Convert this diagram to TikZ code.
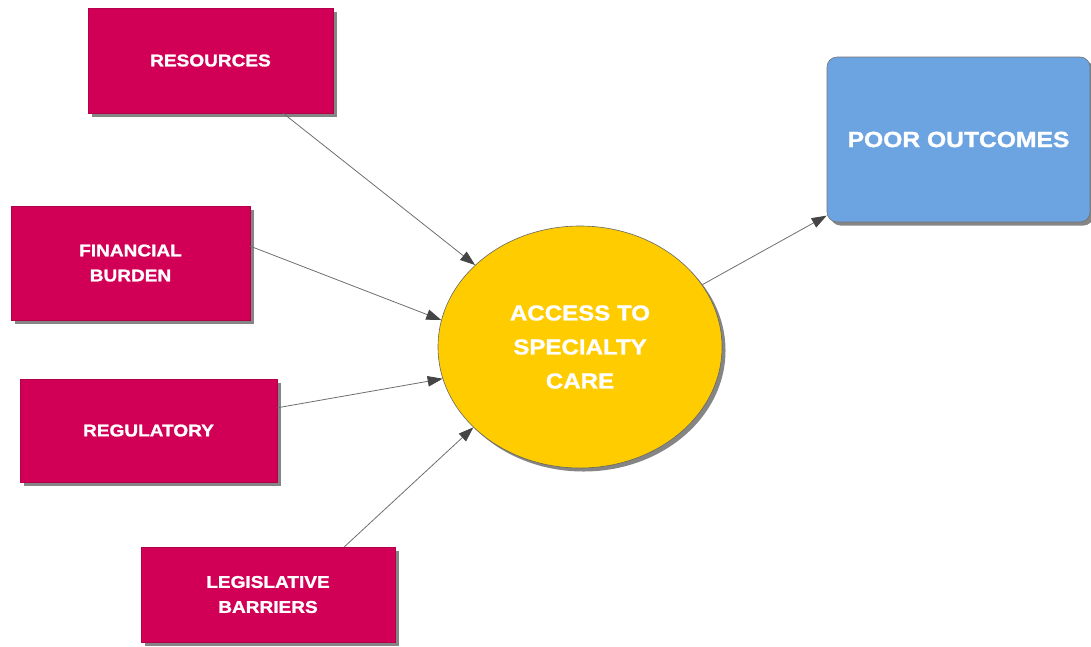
\documentclass[tikz,border=0pt]{standalone}
\usepackage{fontspec}
\newfontfamily\lbl{Liberation Sans}[FakeStretch=1.12,BoldFeatures={FakeBold=1.3}]
\usetikzlibrary{arrows.meta,shapes.geometric,shadows}
\definecolor{factorred}{HTML}{D10056}
\definecolor{accessyellow}{HTML}{FFCC00}
\definecolor{outcomeblue}{HTML}{6CA3E1}
\definecolor{linkgray}{HTML}{6E6E6E}
\definecolor{headgray}{HTML}{454545}
\definecolor{shadowgray}{HTML}{858585}
\begin{document}
\begin{tikzpicture}[x=1pt,y=-1pt,
  shade3/.style={drop shadow={shadow xshift=3.5pt,shadow yshift=-3.5pt,fill=shadowgray,opacity=1}},
  factor/.style={shade3,rectangle,fill=factorred,draw=factorred!85!black,line width=0.4pt,
    text=white,align=center,inner sep=0pt,
    font=\lbl\bfseries\fontsize{17}{25}\selectfont},
  link/.style={draw=linkgray,line width=0.8pt,
    -{Triangle[length=15pt,width=10.5pt,fill=headgray,color=headgray]}}]
\useasboundingbox (0,0) rectangle (1091,646);

% contributing factors
\node[factor,minimum width=245pt,minimum height=105pt] (res) at (210.5,60.5) {RESOURCES};
\node[factor,minimum width=239pt,minimum height=114pt] (fin) at (130.5,263) {FINANCIAL\\BURDEN};
\node[factor,minimum width=257pt,minimum height=103pt] (reg) at (148.5,430.5) {REGULATORY};
\node[factor,minimum width=254pt,minimum height=95pt] (leg) at (268,594.5) {LEGISLATIVE\\BARRIERS};

% central factor
\node[shade3,ellipse,fill=accessyellow,draw=black!60,line width=0.6pt,
  minimum width=284pt,minimum height=242pt,inner sep=0pt,text=white,align=center,
  font=\lbl\bfseries\fontsize{21.5}{34}\selectfont] (acc) at (580,347) {ACCESS TO\\SPECIALTY\\CARE};

% outcome
\node[shade3,rectangle,rounded corners=10pt,fill=outcomeblue,draw=black!55,line width=0.6pt,
  minimum width=263pt,minimum height=165pt,inner sep=0pt,text=white,
  font=\lbl\bfseries\fontsize{22}{26}\selectfont] (out) at (958.5,139.5) {POOR OUTCOMES};

% connectors
\draw[link] (res.-36.7) -- (acc.142.5);
\draw[link] (fin.8.1) -- (acc.169.6);
\draw[link] (reg.10.4) -- (acc.-167.8);
\draw[link] (leg.32.3) -- (acc.-143.6);
\draw[link] (acc.27.3) -- (out.-150.9);
\end{tikzpicture}
\end{document}
